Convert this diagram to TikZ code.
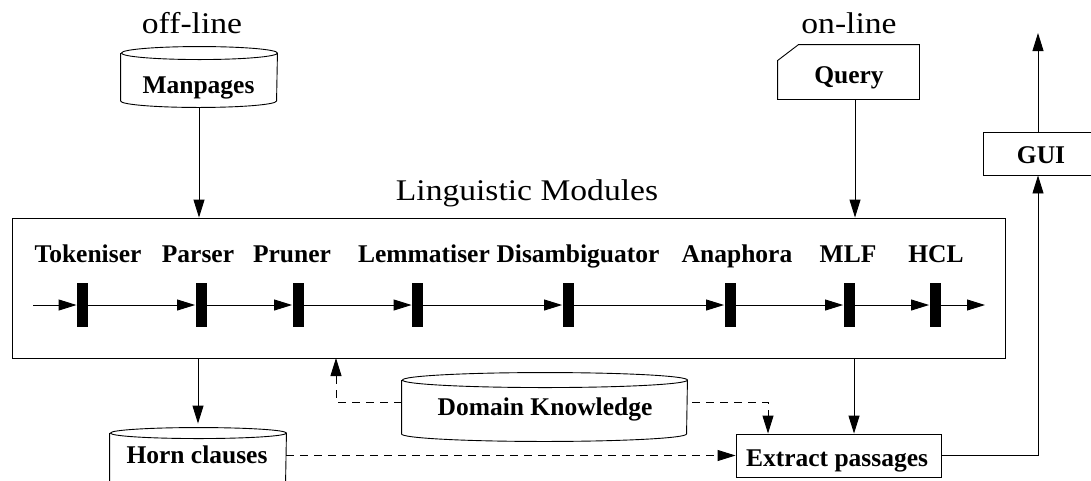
\documentclass[tikz,border=0pt]{standalone}
\usepackage{fontspec}
\setmainfont{Liberation Serif}
\usetikzlibrary{arrows.meta}
\newcommand\mycyl[3]{%
  \draw ([yshift=-#3]#1.north west) -- ([yshift=#3]#1.south west)
    arc[start angle=180,end angle=360,x radius=#2,y radius=#3]
    -- ([yshift=-#3]#1.north east)
    arc[start angle=0,end angle=180,x radius=#2,y radius=#3]
    arc[start angle=180,end angle=360,x radius=#2,y radius=#3];}
\begin{document}
\begin{tikzpicture}[x=1pt,y=-1pt,line width=0.9pt,
  arr/.style={-{Triangle[length=18pt,width=11pt]}},
  dsh/.style={dash pattern=on 8pt off 6pt},
  lbl/.style={font=\fontsize{25.5}{30}\selectfont\bfseries,inner sep=0,anchor=base},
  big/.style={font=\fontsize{30}{36}\selectfont,inner sep=0,anchor=base},
  bar/.style={fill=black,inner sep=0,minimum width=11pt,minimum height=44pt},
  bnd/.style={inner sep=0},
  boxed/.style={draw,inner sep=0}]
\useasboundingbox (0,0) rectangle (1091,480);
% titles
\node[big] (offl) at (192,33) {\scalebox{1.12}[1]{off-line}};
\node[big] (onl) at (849,33) {\scalebox{1.12}[1]{on-line}};
\node[big] (lmt) at (527,200) {\scalebox{1.12}[1]{Linguistic Modules}};
% bounds
\node[bnd,minimum width=156pt,minimum height=60pt] (man) at (199,77) {};
\node[bnd,minimum width=176pt,minimum height=60pt] (hc) at (198,458) {};
\node[bnd,minimum width=285pt,minimum height=68pt] (dk) at (544.5,407) {};
\node[bnd,minimum width=141pt,minimum height=54pt] (q) at (848.5,72) {};
\node[boxed,minimum width=993pt,minimum height=140pt] (box) at (508.5,288) {};
\node[boxed,minimum width=205pt,minimum height=43pt] (ex) at (838.5,455.5) {};
\node[boxed,minimum width=110pt,minimum height=43pt] (gui) at (1038,153.5) {};
% shapes
\mycyl{man}{78pt}{6.5pt}
\mycyl{hc}{88pt}{5.5pt}
\mycyl{dk}{142.5pt}{7.5pt}
\draw (q.south west) -- ([yshift=-16pt]q.north west) -- ([xshift=21pt]q.north west)
  -- (q.north east) -- (q.south east) -- cycle;
% texts
\node[lbl] (tman) at (198.5,93) {Manpages};
\node[lbl] (tq) at (849,83) {Query};
\node[lbl] (thc) at (197,463) {Horn clauses};
\node[lbl] (tdk) at (545,415) {Domain Knowledge};
\node[lbl] (tex) at (837,466) {Extract passages};
\node[lbl] (tgui) at (1041,163) {GUI};
% modules
\node[lbl] (l1) at (88,262) {Tokeniser};
\node[lbl] (l2) at (198,262) {Parser};
\node[lbl] (l3) at (292,262) {Pruner};
\node[lbl] (l4) at (424,262) {Lemmatiser};
\node[lbl] (l5) at (578,262) {Disambiguator};
\node[lbl] (l6) at (737,262) {Anaphora};
\node[lbl] (l7) at (848,262) {MLF};
\node[lbl] (l8) at (936,262) {HCL};
\node[bar] (b1) at (82.5,305) {};
\node[bar] (b2) at (201,305) {};
\node[bar] (b3) at (298,305) {};
\node[bar] (b4) at (417.5,305) {};
\node[bar] (b5) at (568,305) {};
\node[bar] (b6) at (730,305) {};
\node[bar] (b7) at (849,305) {};
\node[bar] (b8) at (935,305) {};
\coordinate (pin) at (33,305);
\coordinate (pout) at (985,305);
\draw[arr] (pin) -- (b1.west);
\draw[arr] (b1.east) -- (b2.west);
\draw[arr] (b2.east) -- (b3.west);
\draw[arr] (b3.east) -- (b4.west);
\draw[arr] (b4.east) -- (b5.west);
\draw[arr] (b5.east) -- (b6.west);
\draw[arr] (b6.east) -- (b7.west);
\draw[arr] (b7.east) -- (b8.west);
\draw[arr] (b8.east) -- (pout);
% connectors
\draw[arr] (man.south) -- (man.south |- box.north);
\draw[arr] ([xshift=6.5pt]q.south) -- ([xshift=6.5pt]q.south |- box.north);
\draw[arr] (box.south -| hc.north) -- ([yshift=4pt]hc.north);
\coordinate (exin) at ([xshift=15.5pt]ex.north);
\draw[arr] (box.south -| exin) -- (exin);
\coordinate (dkup) at (336,358);
\draw[dsh,arr] ([yshift=5pt]dk.west) -| (dkup);
\draw[dsh,arr] ([xshift=5pt,yshift=5pt]dk.east) -| ([xshift=-70.5pt]ex.north);
\draw[dsh,arr] (hc.east |- ex.west) -- (ex.west);
\draw[arr] (ex.east) -| (gui.south);
\coordinate (out) at (1038,33);
\draw[arr] (gui.north) -- (out);
\end{tikzpicture}
\end{document}
